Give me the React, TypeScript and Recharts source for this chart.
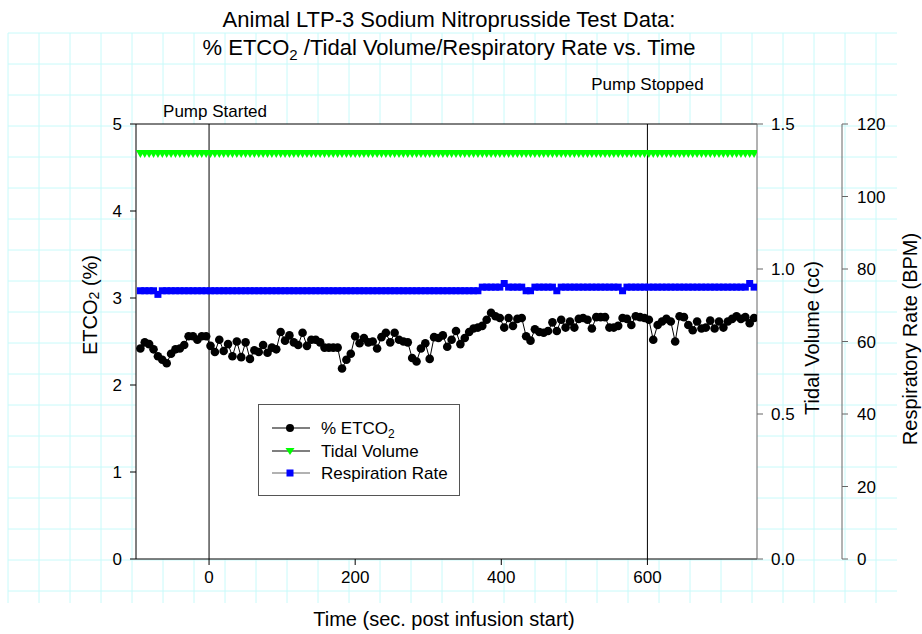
import React from 'react'
import {
  LineChart,
  Line,
  XAxis,
  YAxis,
  CartesianGrid,
  ReferenceLine,
  Legend,
} from 'recharts'

const FONT = '"Liberation Sans", Arial, Helvetica, sans-serif'

// seconds after infusion start
const TIME_S = [
  -94, -88, -82, -76, -70, -64, -58, -52, -46, -40,
  -34, -28, -22, -16, -10, -4, 2, 8, 14, 20,
  26, 32, 38, 44, 50, 56, 62, 68, 74, 80,
  86, 92, 98, 104, 110, 116, 122, 128, 134, 140,
  146, 152, 158, 164, 170, 176, 182, 188, 194, 200,
  206, 212, 218, 224, 230, 236, 242, 248, 254, 260,
  266, 272, 278, 284, 290, 296, 302, 308, 314, 320,
  326, 332, 338, 344, 350, 356, 362, 368, 374, 380,
  386, 392, 398, 404, 410, 416, 422, 428, 434, 440,
  446, 452, 458, 464, 470, 476, 482, 488, 494, 500,
  506, 512, 518, 524, 530, 536, 542, 548, 554, 560,
  566, 572, 578, 584, 590, 596, 602, 608, 614, 620,
  626, 632, 638, 644, 650, 656, 662, 668, 674, 680,
  686, 692, 698, 704, 710, 716, 722, 728, 734, 740,
  746,
]

const ETCO2_PCT = [
  2.42, 2.49, 2.47, 2.41, 2.33, 2.29, 2.25, 2.36, 2.41, 2.42,
  2.46, 2.56, 2.56, 2.52, 2.56, 2.56, 2.45, 2.38, 2.52, 2.39,
  2.47, 2.33, 2.5, 2.32, 2.49, 2.3, 2.4, 2.38, 2.46, 2.37,
  2.43, 2.41, 2.61, 2.51, 2.57, 2.49, 2.46, 2.6, 2.45, 2.52,
  2.52, 2.49, 2.43, 2.43, 2.43, 2.43, 2.19, 2.29, 2.36, 2.56,
  2.48, 2.54, 2.49, 2.5, 2.42, 2.55, 2.6, 2.49, 2.6, 2.52,
  2.5, 2.49, 2.31, 2.27, 2.42, 2.48, 2.3, 2.55, 2.54, 2.57,
  2.44, 2.52, 2.62, 2.47, 2.54, 2.61, 2.65, 2.66, 2.68, 2.75,
  2.83, 2.79, 2.77, 2.66, 2.77, 2.68, 2.76, 2.77, 2.56, 2.51,
  2.64, 2.61, 2.6, 2.62, 2.72, 2.62, 2.75, 2.66, 2.73, 2.66,
  2.76, 2.77, 2.75, 2.65, 2.78, 2.78, 2.78, 2.66, 2.66, 2.68,
  2.77, 2.76, 2.69, 2.79, 2.78, 2.77, 2.75, 2.52, 2.69, 2.73,
  2.76, 2.73, 2.5, 2.79, 2.78, 2.69, 2.63, 2.73, 2.65, 2.66,
  2.74, 2.65, 2.73, 2.66, 2.73, 2.76, 2.79, 2.76, 2.78, 2.71,
  2.77,
]

const TIDAL_CC = [
  1.4, 1.4, 1.4, 1.4, 1.4, 1.4, 1.4, 1.4, 1.4, 1.4,
  1.4, 1.4, 1.4, 1.4, 1.4, 1.4, 1.4, 1.4, 1.4, 1.4,
  1.4, 1.4, 1.4, 1.4, 1.4, 1.4, 1.4, 1.4, 1.4, 1.4,
  1.4, 1.4, 1.4, 1.4, 1.4, 1.4, 1.4, 1.4, 1.4, 1.4,
  1.4, 1.4, 1.4, 1.4, 1.4, 1.4, 1.4, 1.4, 1.4, 1.4,
  1.4, 1.4, 1.4, 1.4, 1.4, 1.4, 1.4, 1.4, 1.4, 1.4,
  1.4, 1.4, 1.4, 1.4, 1.4, 1.4, 1.4, 1.4, 1.4, 1.4,
  1.4, 1.4, 1.4, 1.4, 1.4, 1.4, 1.4, 1.4, 1.4, 1.4,
  1.4, 1.4, 1.4, 1.4, 1.4, 1.4, 1.4, 1.4, 1.4, 1.4,
  1.4, 1.4, 1.4, 1.4, 1.4, 1.4, 1.4, 1.4, 1.4, 1.4,
  1.4, 1.4, 1.4, 1.4, 1.4, 1.4, 1.4, 1.4, 1.4, 1.4,
  1.4, 1.4, 1.4, 1.4, 1.4, 1.4, 1.4, 1.4, 1.4, 1.4,
  1.4, 1.4, 1.4, 1.4, 1.4, 1.4, 1.4, 1.4, 1.4, 1.4,
  1.4, 1.4, 1.4, 1.4, 1.4, 1.4, 1.4, 1.4, 1.4, 1.4,
  1.4,
]

const RESP_BPM = [
  74, 74, 74, 74, 73, 74, 74, 74, 74, 74,
  74, 74, 74, 74, 74, 74, 74, 74, 74, 74,
  74, 74, 74, 74, 74, 74, 74, 74, 74, 74,
  74, 74, 74, 74, 74, 74, 74, 74, 74, 74,
  74, 74, 74, 74, 74, 74, 74, 74, 74, 74,
  74, 74, 74, 74, 74, 74, 74, 74, 74, 74,
  74, 74, 74, 74, 74, 74, 74, 74, 74, 74,
  74, 74, 74, 74, 74, 74, 74, 74, 75, 75,
  75, 75, 75, 76, 75, 75, 75, 75, 74, 74,
  75, 75, 75, 75, 75, 74, 75, 75, 75, 75,
  75, 75, 75, 75, 75, 75, 75, 75, 75, 75,
  74, 75, 75, 75, 75, 75, 75, 75, 75, 75,
  75, 75, 75, 75, 75, 75, 75, 75, 75, 75,
  75, 75, 75, 75, 75, 75, 75, 75, 75, 76,
  75,
]

const X_TICKS = [0, 200, 400, 600]
const ETCO2_TICKS = [0, 1, 2, 3, 4, 5]
const TIDAL_TICKS = [0, 0.5, 1, 1.5]
const RESP_TICKS = [0, 20, 40, 60, 80, 100, 120]

const data = TIME_S.map((t, i) => ({
  t,
  etco2: ETCO2_PCT[i],
  tidal: TIDAL_CC[i],
  resp: RESP_BPM[i],
}))

const tickStyle = { fill: '#000', fontSize: 17, fontFamily: FONT }

const circleDot = (p: any) => (
  <circle key={`c${p.index}`} cx={p.cx} cy={p.cy} r={4.3} fill="#000" />
)

const triangleDot = (p: any) => (
  <path
    key={`t${p.index}`}
    d={`M${p.cx - 4.5},${p.cy - 3}L${p.cx + 4.5},${p.cy - 3}L${p.cx},${p.cy + 5}Z`}
    fill="#00ff00"
  />
)

const squareDot = (p: any) => (
  <rect key={`s${p.index}`} x={p.cx - 3.5} y={p.cy - 3.5} width={7} height={7} fill="#0000ff" />
)

const renderLegend = () => {
  const rows = [
    { y: 24, line: '#000', mark: 'circle' },
    { y: 47, line: '#000', mark: 'tri' },
    { y: 69, line: '#666', mark: 'square' },
  ]
  return (
    <svg width={202} height={92} style={{ display: 'block' }}>
      <rect x={0.5} y={0.5} width={201} height={91} fill="#fff" stroke="#555" />
      {rows.map((r) => (
        <g key={r.mark}>
          <line x1={14} x2={52} y1={r.y} y2={r.y} stroke={r.line} strokeWidth={1.2} />
          {r.mark === 'circle' && <circle cx={32} cy={r.y} r={4} fill="#000" />}
          {r.mark === 'tri' && (
            <path d={`M27.5,${r.y - 3}L36.5,${r.y - 3}L32,${r.y + 4}Z`} fill="#00ff00" />
          )}
          {r.mark === 'square' && (
            <rect x={28.5} y={r.y - 3.5} width={7} height={7} fill="#0000ff" />
          )}
        </g>
      ))}
      <g fontFamily={FONT} fontSize={17} fill="#000">
        <text x={63} y={30}>
          % ETCO<tspan dy={4} fontSize={12}>2</tspan>
        </text>
        <text x={63} y={53}>Tidal Volume</text>
        <text x={63} y={75}>Respiration Rate</text>
      </g>
    </svg>
  )
}

const pumpLabel = (text: string, dx: number, y: number) => (props: any) => {
  const vb = props.viewBox || {}
  return (
    <text
      x={vb.x + dx}
      y={y}
      textAnchor="middle"
      fontFamily={FONT}
      fontSize={17}
      fill="#000"
    >
      {text}
    </text>
  )
}

function PageGrid() {
  const vs = []
  const hs = []
  for (let x = 8; x <= 897; x += 31) vs.push(x)
  for (let y = 33; y <= 603; y += 31) hs.push(y)
  return (
    <svg
      width={922}
      height={634}
      style={{ position: 'absolute', left: 0, top: 0 }}
    >
      {vs.map((x) => (
        <line key={`v${x}`} x1={x} x2={x} y1={33} y2={603} stroke="#c8fafa" strokeWidth={1} />
      ))}
      {hs.map((y) => (
        <line key={`h${y}`} x1={8} x2={897} y1={y} y2={y} stroke="#c8fafa" strokeWidth={1} />
      ))}
    </svg>
  )
}

function Titles() {
  return (
    <svg
      width={922}
      height={634}
      style={{ position: 'absolute', left: 0, top: 0, pointerEvents: 'none' }}
      fontFamily={FONT}
      fill="#000"
    >
      <text x={449} y={27} textAnchor="middle" fontSize={22}>
        Animal LTP-3 Sodium Nitroprusside Test Data:
      </text>
      <text x={449} y={55} textAnchor="middle" fontSize={22}>
        % ETCO<tspan dy={5} fontSize={15}>2</tspan>
        <tspan dy={-5}> /Tidal Volume/Respiratory Rate vs. Time</tspan>
      </text>
      <text x={444} y={626} textAnchor="middle" fontSize={20}>
        Time (sec. post infusion start)
      </text>
      <text
        transform="translate(90,305) rotate(-90)"
        textAnchor="middle"
        dominantBaseline="central"
        fontSize={20}
      >
        ETCO<tspan dy={4} fontSize={14}>2</tspan>
        <tspan dy={-4}> (%)</tspan>
      </text>
      <text
        transform="translate(812,338) rotate(-90)"
        textAnchor="middle"
        dominantBaseline="central"
        fontSize={20}
      >
        Tidal Volume (cc)
      </text>
      <text
        transform="translate(910,339) rotate(-90)"
        textAnchor="middle"
        dominantBaseline="central"
        fontSize={20}
      >
        Respiratory Rate (BPM)
      </text>
    </svg>
  )
}

export default function App() {
  return (
    <div
      style={{
        position: 'absolute',
        left: 0,
        top: 0,
        width: 922,
        height: 634,
        background: '#fff',
        fontFamily: FONT,
      }}
    >
      <PageGrid />
      <div style={{ position: 'absolute', left: 0, top: 0 }}>
        <LineChart
          width={922}
          height={634}
          data={data}
          margin={{ top: 124, right: 30, bottom: 35, left: 76 }}
        >
          <CartesianGrid horizontal={false} vertical={false} fill="#fff" yAxisId="left" />
          <XAxis
            dataKey="t"
            type="number"
            domain={[-100, 750]}
            ticks={X_TICKS}
            allowDataOverflow
            height={40}
            tickSize={6}
            tickMargin={6}
            tick={tickStyle}
            axisLine={{ stroke: '#000' }}
            tickLine={{ stroke: '#000' }}
          />
          <YAxis
            yAxisId="left"
            domain={[0, 5]}
            ticks={ETCO2_TICKS}
            width={60}
            tickSize={6}
            tickMargin={8}
            tick={tickStyle}
            axisLine={{ stroke: '#000' }}
            tickLine={{ stroke: '#000' }}
          />
          <YAxis
            yAxisId="r1"
            orientation="right"
            domain={[0, 1.5]}
            ticks={TIDAL_TICKS}
            tickFormatter={(v: number) => v.toFixed(1)}
            width={85}
            tickSize={6}
            tickMargin={8}
            tick={tickStyle}
            axisLine={{ stroke: '#666' }}
            tickLine={{ stroke: '#666' }}
          />
          <YAxis
            yAxisId="r2"
            orientation="right"
            domain={[0, 120]}
            ticks={RESP_TICKS}
            width={50}
            tickSize={6}
            tickMargin={9}
            tick={tickStyle}
            axisLine={{ stroke: '#666' }}
            tickLine={{ stroke: '#666' }}
          />
          <ReferenceLine yAxisId="left" y={5} stroke="#000" />
          <ReferenceLine
            yAxisId="left"
            x={0}
            stroke="#000"
            label={pumpLabel('Pump Started', 6, 117)}
          />
          <ReferenceLine
            yAxisId="left"
            x={600}
            stroke="#000"
            label={pumpLabel('Pump Stopped', 0, 90)}
          />
          <Line
            yAxisId="left"
            dataKey="etco2"
            stroke="#000"
            strokeWidth={1}
            dot={circleDot}
            activeDot={false}
            isAnimationActive={false}
          />
          <Line
            yAxisId="r1"
            dataKey="tidal"
            stroke="#00ff00"
            strokeWidth={1}
            dot={triangleDot}
            activeDot={false}
            isAnimationActive={false}
          />
          <Line
            yAxisId="r2"
            dataKey="resp"
            stroke="#0000ff"
            strokeWidth={1}
            dot={squareDot}
            activeDot={false}
            isAnimationActive={false}
          />
          <Legend
            content={renderLegend}
            layout="horizontal"
            verticalAlign="middle"
            align="center"
            wrapperStyle={{ left: 258, top: 404, width: 202, height: 92 }}
          />
        </LineChart>
      </div>
      <Titles />
    </div>
  )
}
